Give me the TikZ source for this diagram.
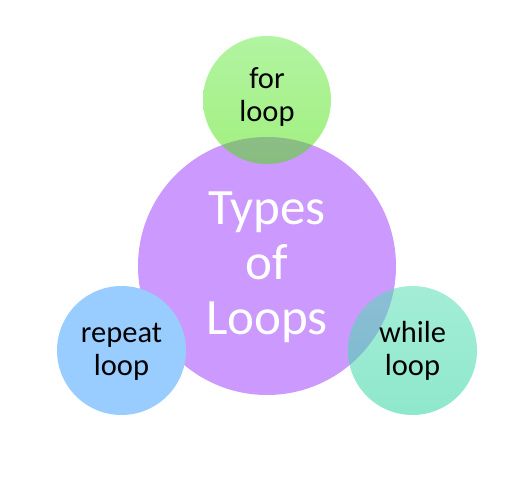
\documentclass[tikz,border=0pt]{standalone}
\usepackage{fontspec}
\setmainfont{Carlito}
\definecolor{purplefill}{RGB}{204,153,255}
\definecolor{bluefill}{RGB}{153,204,255}
\definecolor{greentop}{RGB}{101,233,69}
\definecolor{greenbot}{RGB}{69,225,0}
\definecolor{tealtop}{RGB}{89,222,180}
\definecolor{tealbot}{RGB}{49,213,162}
\begin{document}
\begin{tikzpicture}[x=1pt,y=1pt,
  bubble/.style={circle,draw=none,inner sep=0pt,outer sep=0pt},
  bigtext/.style={align=center,text=white,font=\fontsize{51}{55}\selectfont},
  smalltext/.style={align=center,text=black,font=\fontsize{30.5}{33}\selectfont}]
\useasboundingbox (0,0) rectangle (506,495);
\node[bubble,fill=purplefill,minimum size=258pt] (main) at (267,229) {};
\node[bubble,top color=greentop,bottom color=greenbot,fill opacity=0.5,minimum size=128pt] (for) at (267,395) {};
\node[bubble,fill=bluefill,minimum size=129pt] (rep) at (121.5,144.5) {};
\node[bubble,top color=tealtop,bottom color=tealbot,fill opacity=0.55,minimum size=129pt] (while) at (412.5,144.5) {};
\node[bigtext,anchor=base] (maint) at (267,160) {Types\\of\\Loops};
\node[smalltext,anchor=base] (fort) at (267,373) {for\\loop};
\node[smalltext,anchor=base] (rept) at (121.5,119) {repeat\\loop};
\node[smalltext,anchor=base] (whilet) at (412.5,119) {while\\loop};
\end{tikzpicture}
\end{document}
